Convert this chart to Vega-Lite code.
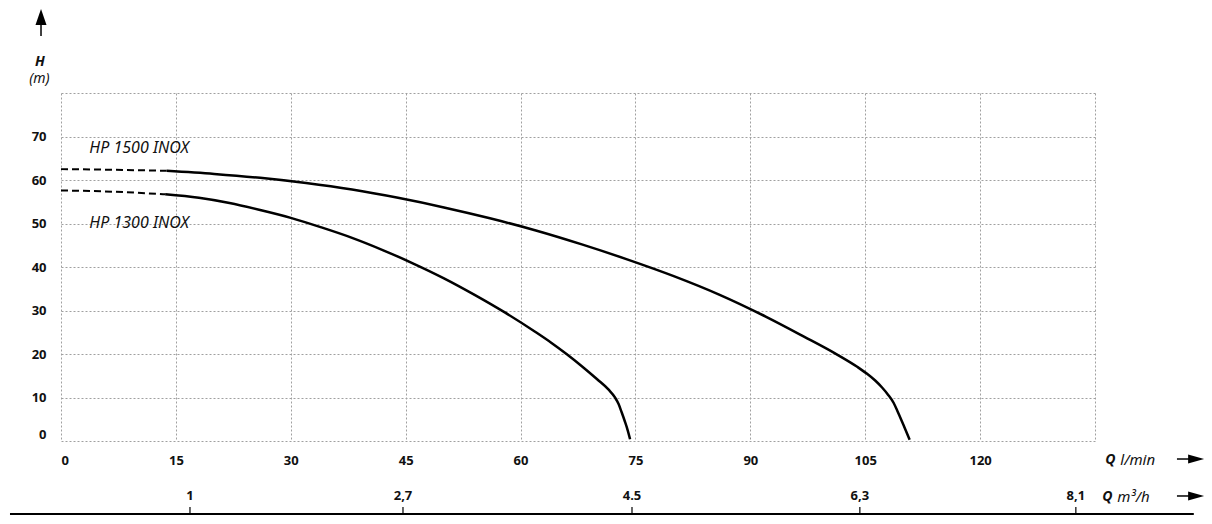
{
  "$schema": "https://vega.github.io/schema/vega-lite/v6.json",
  "width": 1034,
  "height": 348,
  "autosize": {"type": "none"},
  "padding": {"left": 61, "top": 93, "right": 117, "bottom": 83},
  "background": "white",
  "config": {"view": {"stroke": null}, "font": "Noto Sans"},
  "datasets": {
    "curves": [
      {"pump": "HP 1500 INOX", "seg": "dashed", "q": 0, "h": 62.5},
      {"pump": "HP 1500 INOX", "seg": "dashed", "q": 7, "h": 62.35},
      {"pump": "HP 1500 INOX", "seg": "dashed", "q": 13.8, "h": 62.1},
      {"pump": "HP 1500 INOX", "seg": "solid", "q": 13.8, "h": 62.1},
      {"pump": "HP 1500 INOX", "seg": "solid", "q": 20, "h": 61.4},
      {"pump": "HP 1500 INOX", "seg": "solid", "q": 26, "h": 60.5},
      {"pump": "HP 1500 INOX", "seg": "solid", "q": 32, "h": 59.3},
      {"pump": "HP 1500 INOX", "seg": "solid", "q": 38, "h": 57.8},
      {"pump": "HP 1500 INOX", "seg": "solid", "q": 44, "h": 55.9},
      {"pump": "HP 1500 INOX", "seg": "solid", "q": 50, "h": 53.7},
      {"pump": "HP 1500 INOX", "seg": "solid", "q": 56, "h": 51.2},
      {"pump": "HP 1500 INOX", "seg": "solid", "q": 62, "h": 48.4},
      {"pump": "HP 1500 INOX", "seg": "solid", "q": 68, "h": 45.2},
      {"pump": "HP 1500 INOX", "seg": "solid", "q": 74, "h": 41.7},
      {"pump": "HP 1500 INOX", "seg": "solid", "q": 80, "h": 37.9},
      {"pump": "HP 1500 INOX", "seg": "solid", "q": 86, "h": 33.6},
      {"pump": "HP 1500 INOX", "seg": "solid", "q": 92, "h": 28.6},
      {"pump": "HP 1500 INOX", "seg": "solid", "q": 97, "h": 24.0},
      {"pump": "HP 1500 INOX", "seg": "solid", "q": 101, "h": 20.2},
      {"pump": "HP 1500 INOX", "seg": "solid", "q": 104, "h": 17.0},
      {"pump": "HP 1500 INOX", "seg": "solid", "q": 105.2, "h": 15.5},
      {"pump": "HP 1500 INOX", "seg": "solid", "q": 106.3, "h": 13.9},
      {"pump": "HP 1500 INOX", "seg": "solid", "q": 107.2, "h": 12.3},
      {"pump": "HP 1500 INOX", "seg": "solid", "q": 108.0, "h": 10.6},
      {"pump": "HP 1500 INOX", "seg": "solid", "q": 108.7, "h": 8.8},
      {"pump": "HP 1500 INOX", "seg": "solid", "q": 109.2, "h": 6.9},
      {"pump": "HP 1500 INOX", "seg": "solid", "q": 109.7, "h": 4.9},
      {"pump": "HP 1500 INOX", "seg": "solid", "q": 110.2, "h": 2.8},
      {"pump": "HP 1500 INOX", "seg": "solid", "q": 110.8, "h": 0.3},
      {"pump": "HP 1300 INOX", "seg": "dashed", "q": 0, "h": 57.6},
      {"pump": "HP 1300 INOX", "seg": "dashed", "q": 7, "h": 57.3},
      {"pump": "HP 1300 INOX", "seg": "dashed", "q": 13.6, "h": 56.7},
      {"pump": "HP 1300 INOX", "seg": "solid", "q": 13.6, "h": 56.7},
      {"pump": "HP 1300 INOX", "seg": "solid", "q": 18, "h": 55.9},
      {"pump": "HP 1300 INOX", "seg": "solid", "q": 22, "h": 54.7},
      {"pump": "HP 1300 INOX", "seg": "solid", "q": 26, "h": 53.1},
      {"pump": "HP 1300 INOX", "seg": "solid", "q": 30, "h": 51.3},
      {"pump": "HP 1300 INOX", "seg": "solid", "q": 34, "h": 49.1},
      {"pump": "HP 1300 INOX", "seg": "solid", "q": 38, "h": 46.7},
      {"pump": "HP 1300 INOX", "seg": "solid", "q": 42, "h": 43.9},
      {"pump": "HP 1300 INOX", "seg": "solid", "q": 46, "h": 40.8},
      {"pump": "HP 1300 INOX", "seg": "solid", "q": 50, "h": 37.4},
      {"pump": "HP 1300 INOX", "seg": "solid", "q": 54, "h": 33.6},
      {"pump": "HP 1300 INOX", "seg": "solid", "q": 58, "h": 29.5},
      {"pump": "HP 1300 INOX", "seg": "solid", "q": 62, "h": 25.0},
      {"pump": "HP 1300 INOX", "seg": "solid", "q": 64, "h": 22.6},
      {"pump": "HP 1300 INOX", "seg": "solid", "q": 66, "h": 20.0},
      {"pump": "HP 1300 INOX", "seg": "solid", "q": 68, "h": 17.2},
      {"pump": "HP 1300 INOX", "seg": "solid", "q": 70, "h": 14.2},
      {"pump": "HP 1300 INOX", "seg": "solid", "q": 71.5, "h": 11.8},
      {"pump": "HP 1300 INOX", "seg": "solid", "q": 72.3, "h": 10.1},
      {"pump": "HP 1300 INOX", "seg": "solid", "q": 72.8, "h": 8.5},
      {"pump": "HP 1300 INOX", "seg": "solid", "q": 73.2, "h": 6.6},
      {"pump": "HP 1300 INOX", "seg": "solid", "q": 73.6, "h": 4.6},
      {"pump": "HP 1300 INOX", "seg": "solid", "q": 74.0, "h": 2.4},
      {"pump": "HP 1300 INOX", "seg": "solid", "q": 74.3, "h": 0.4}
    ],
    "curveLabels": [
      {"name": "HP 1500 INOX", "q": 3.7, "h": 67.4},
      {"name": "HP 1300 INOX", "q": 3.7, "h": 50.2}
    ],
    "m3h": [
      {"label": "1", "q": 16.84},
      {"label": "2,7", "q": 44.65},
      {"label": "4.5", "q": 74.55},
      {"label": "6,3", "q": 104.3},
      {"label": "8,1", "q": 132.5}
    ]
  },
  "layer": [
    {
      "data": {"name": "curves"},
      "transform": [{"filter": "datum.seg == 'dashed'"}],
      "mark": {"type": "line", "interpolate": "monotone", "color": "black", "strokeWidth": 2, "strokeDash": [7, 4]},
      "encoding": {
        "x": {
          "field": "q", "type": "quantitative",
          "scale": {"domain": [0, 135], "nice": false, "zero": false},
          "axis": {
            "values": [0, 15, 30, 45, 60, 75, 90, 105, 120, 135],
            "labelExpr": "datum.value == 135 ? '' : datum.label",
            "title": null, "grid": true, "gridColor": "#a0a0a0", "gridDash": [2, 2], "gridWidth": 1,
            "domain": false, "ticks": false, "labelPadding": 13,
            "labelFontSize": 13, "labelFontWeight": "bold", "labelColor": "#111", "labelFont": "Noto Sans",
            "labelFlush": true, "labelOverlap": false
          }
        },
        "y": {
          "field": "h", "type": "quantitative",
          "scale": {"domain": [0, 80], "nice": false, "zero": false},
          "axis": {
            "values": [0, 10, 20, 30, 40, 50, 60, 70, 80],
            "labelExpr": "datum.value == 80 ? '' : datum.label",
            "title": null, "grid": true, "gridColor": "#a0a0a0", "gridDash": [2, 2], "gridWidth": 1,
            "domain": false, "ticks": false, "labelPadding": 15,
            "labelFontSize": 13, "labelFontWeight": "bold", "labelColor": "#111", "labelFont": "Noto Sans",
            "labelFlush": true, "labelOverlap": false
          }
        },
        "detail": {"field": "pump"}
      }
    },
    {
      "data": {"name": "curves"},
      "transform": [{"filter": "datum.seg == 'solid'"}],
      "mark": {"type": "line", "interpolate": "monotone", "color": "black", "strokeWidth": 2.5},
      "encoding": {
        "x": {"field": "q", "type": "quantitative"},
        "y": {"field": "h", "type": "quantitative"},
        "detail": {"field": "pump"}
      }
    },
    {
      "data": {"name": "curveLabels"},
      "mark": {"type": "text", "align": "left", "baseline": "middle", "fontStyle": "italic", "fontSize": 16, "font": "Noto Sans", "color": "#111"},
      "encoding": {
        "x": {"field": "q", "type": "quantitative"},
        "y": {"field": "h", "type": "quantitative"},
        "text": {"field": "name"}
      }
    },
    {
      "data": {"name": "m3h"},
      "mark": {"type": "rule", "color": "black", "strokeWidth": 1.2},
      "encoding": {
        "x": {"field": "q", "type": "quantitative"},
        "y": {"datum": -16.8, "type": "quantitative"},
        "y2": {"datum": -15.2}
      }
    },
    {
      "data": {"name": "m3h"},
      "mark": {"type": "text", "align": "center", "baseline": "middle", "fontWeight": "bold", "fontSize": 13, "font": "Noto Sans", "color": "#111"},
      "encoding": {
        "x": {"field": "q", "type": "quantitative"},
        "y": {"datum": -12.64, "type": "quantitative"},
        "text": {"field": "label"}
      }
    },
    {
      "data": {"values": [{}]},
      "mark": {"type": "rule", "color": "black", "strokeWidth": 2},
      "encoding": {
        "x": {"datum": -6.66, "type": "quantitative"},
        "x2": {"datum": 147.9},
        "y": {"datum": -16.8, "type": "quantitative"}
      }
    },
    {
      "data": {"values": [{}]},
      "mark": {"type": "rule", "color": "black", "strokeWidth": 1.5},
      "encoding": {
        "x": {"datum": -2.61, "type": "quantitative"},
        "y": {"datum": 93.1, "type": "quantitative"},
        "y2": {"datum": 96.0}
      }
    },
    {
      "data": {"values": [{}]},
      "mark": {"type": "point", "shape": "M0,-1L0.69,1L-0.69,1Z", "size": 256, "filled": true, "color": "black", "opacity": 1, "strokeWidth": 0},
      "encoding": {
        "x": {"datum": -2.61, "type": "quantitative"},
        "y": {"datum": 97.5, "type": "quantitative"}
      }
    },
    {
      "data": {"values": [{}]},
      "mark": {"type": "text", "text": "H", "align": "center", "baseline": "middle", "fontStyle": "italic", "fontWeight": "bold", "fontSize": 14, "font": "Noto Sans", "color": "#111"},
      "encoding": {
        "x": {"datum": -2.74, "type": "quantitative"},
        "y": {"datum": 87.2, "type": "quantitative"}
      }
    },
    {
      "data": {"values": [{}]},
      "mark": {"type": "text", "text": "(m)", "align": "center", "baseline": "middle", "fontStyle": "italic", "fontSize": 14, "font": "Noto Sans", "color": "#111"},
      "encoding": {
        "x": {"datum": -2.83, "type": "quantitative"},
        "y": {"datum": 83.3, "type": "quantitative"}
      }
    },
    {
      "data": {"values": [{}]},
      "mark": {"type": "text", "text": "Q", "align": "center", "baseline": "middle", "fontStyle": "italic", "fontWeight": "bold", "fontSize": 14, "font": "Noto Sans", "color": "#111"},
      "encoding": {
        "x": {"datum": 137.0, "type": "quantitative"},
        "y": {"datum": -4.37, "type": "quantitative"}
      }
    },
    {
      "data": {"values": [{}]},
      "mark": {"type": "text", "text": "l/min", "align": "left", "baseline": "middle", "fontStyle": "italic", "fontSize": 15, "font": "Noto Sans", "color": "#111"},
      "encoding": {
        "x": {"datum": 138.3, "type": "quantitative"},
        "y": {"datum": -4.37, "type": "quantitative"}
      }
    },
    {
      "data": {"values": [{}]},
      "mark": {"type": "text", "text": "Q", "align": "center", "baseline": "middle", "fontStyle": "italic", "fontWeight": "bold", "fontSize": 14, "font": "Noto Sans", "color": "#111"},
      "encoding": {
        "x": {"datum": 136.6, "type": "quantitative"},
        "y": {"datum": -12.87, "type": "quantitative"}
      }
    },
    {
      "data": {"values": [{}]},
      "mark": {"type": "text", "text": "m³/h", "align": "left", "baseline": "middle", "fontStyle": "italic", "fontSize": 15, "font": "Noto Sans", "color": "#111"},
      "encoding": {
        "x": {"datum": 137.9, "type": "quantitative"},
        "y": {"datum": -12.87, "type": "quantitative"}
      }
    },
    {
      "data": {"values": [{}]},
      "mark": {"type": "rule", "color": "black", "strokeWidth": 1.5},
      "encoding": {
        "x": {"datum": 145.7, "type": "quantitative"},
        "x2": {"datum": 147.6},
        "y": {"datum": -4.14, "type": "quantitative"}
      }
    },
    {
      "data": {"values": [{}]},
      "mark": {"type": "point", "shape": "M1,0L-1,-0.56L-1,0.56Z", "size": 256, "filled": true, "color": "black", "opacity": 1, "strokeWidth": 0},
      "encoding": {
        "x": {"datum": 148.2, "type": "quantitative"},
        "y": {"datum": -4.14, "type": "quantitative"}
      }
    },
    {
      "data": {"values": [{}]},
      "mark": {"type": "rule", "color": "black", "strokeWidth": 1.5},
      "encoding": {
        "x": {"datum": 145.7, "type": "quantitative"},
        "x2": {"datum": 147.6},
        "y": {"datum": -12.64, "type": "quantitative"}
      }
    },
    {
      "data": {"values": [{}]},
      "mark": {"type": "point", "shape": "M1,0L-1,-0.56L-1,0.56Z", "size": 256, "filled": true, "color": "black", "opacity": 1, "strokeWidth": 0},
      "encoding": {
        "x": {"datum": 148.2, "type": "quantitative"},
        "y": {"datum": -12.64, "type": "quantitative"}
      }
    }
  ]
}
